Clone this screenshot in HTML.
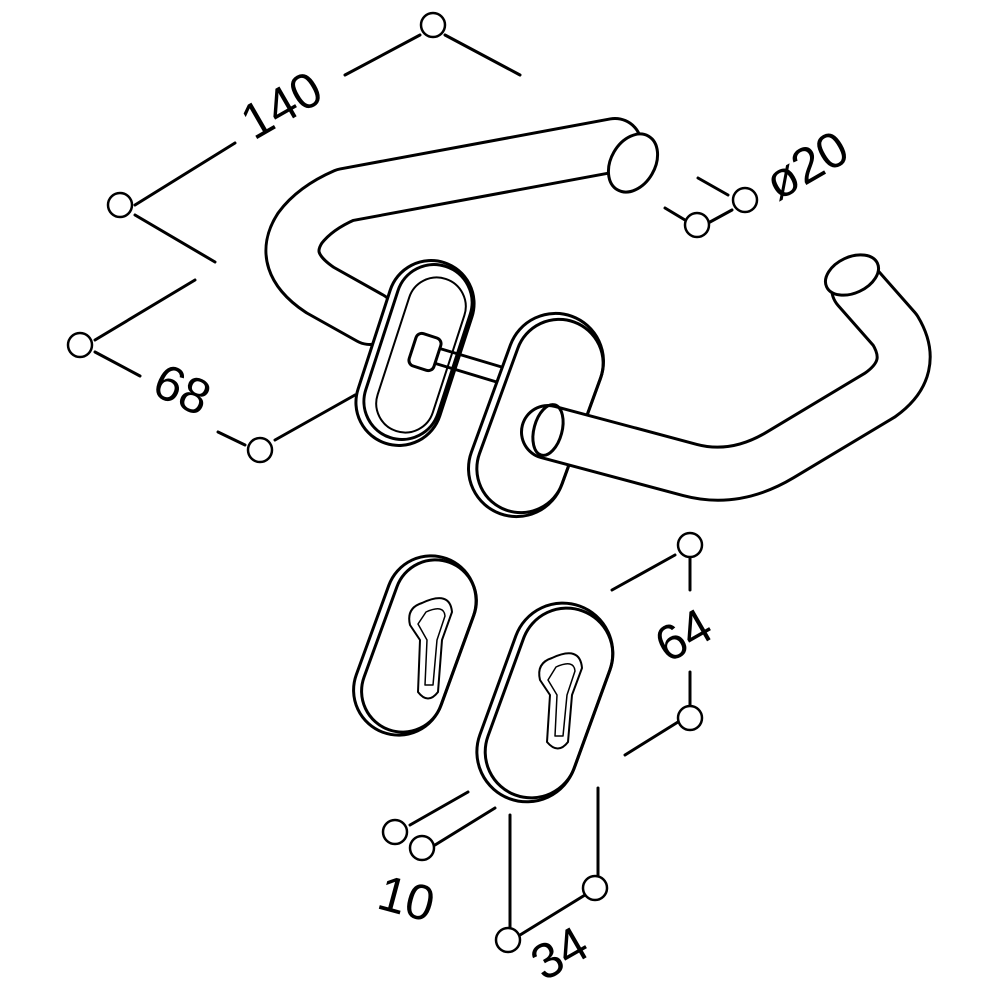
<!DOCTYPE html>
<html><head><style>html,body{margin:0;padding:0;background:#fff}svg{display:block}</style></head><body>
<svg width="1000" height="1000" viewBox="0 0 1000 1000" xmlns="http://www.w3.org/2000/svg">
<g fill="none" stroke="#000" stroke-width="3" stroke-linecap="round" stroke-linejoin="round">
<path d="M 370 318 L 320 290 Q 278 262 300 228 Q 315 208 345 195 L 615 145" stroke-width="56"/>
<path d="M 370 318 L 320 290 Q 278 262 300 228 Q 315 208 345 195 L 615 145" stroke="#fff" stroke-width="50"/>
<ellipse cx="633" cy="163" rx="22" ry="31" transform="rotate(30 633 163)" fill="#fff"/>
<rect x="372" y="258" width="86" height="190" rx="43" transform="rotate(18 415 353)" fill="#fff"/>
<rect x="380" y="262" width="76" height="180" rx="38" transform="rotate(18 418 352)"/>
<rect x="392" y="275" width="58" height="160" rx="29" transform="rotate(18 421 355)" stroke-width="2"/>
<path d="M 428 345 L 505 368 M 424 360 L 500 383"/>
<rect x="412" y="335" width="26" height="34" rx="6" transform="rotate(18 425 352)" fill="#fff"/>
<rect x="488" y="310" width="96" height="210" rx="48" transform="rotate(20 536 415)" fill="#fff"/>
<rect x="496" y="316" width="88" height="200" rx="44" transform="rotate(20 540 416)"/>
<path d="M 548 432 L 690 470 Q 735 482 780 455 L 880 395 Q 918 368 895 330 L 858 288" stroke-width="56"/>
<path d="M 548 432 L 690 470 Q 735 482 780 455 L 880 395 Q 918 368 895 330 L 858 288" stroke="#fff" stroke-width="50"/>
<ellipse cx="852" cy="275" rx="28" ry="18" transform="rotate(-25 852 275)" fill="#fff"/>
<ellipse cx="548" cy="430" rx="14" ry="26" transform="rotate(15 548 430)"/>
<rect x="370" y="553" width="90" height="185" rx="45" transform="rotate(20 415 645)" fill="#fff"/>
<rect x="378" y="557" width="82" height="178" rx="41" transform="rotate(20 419 646)"/>
<path d="M 422 603 Q 450 590 452 612 L 442 640 L 438 692 Q 428 705 418 692 L 420 640 L 410 625 Q 406 608 422 603 Z" stroke-width="2"/>
<path d="M 426 612 Q 444 604 445 616 L 437 640 L 433 685 L 425 685 L 427 640 L 418 624 Z" stroke-width="1.5"/>
<rect x="495" y="600" width="100" height="205" rx="50" transform="rotate(20 545 702)" fill="#fff"/>
<rect x="503" y="605" width="92" height="196" rx="46" transform="rotate(20 549 703)"/>
<path d="M 552 658 Q 580 645 582 668 L 572 695 L 568 742 Q 558 755 547 742 L 550 695 L 540 680 Q 536 663 552 658 Z" stroke-width="2"/>
<path d="M 556 667 Q 574 659 575 671 L 567 695 L 563 736 L 555 736 L 557 695 L 548 680 Z" stroke-width="1.5"/>
<path d="M 135 205 L 235 143 M 345 75 L 420 35 M 445 35 L 520 75 M 135 215 L 215 262"/>
<path d="M 95 340 L 195 280 M 95 352 L 140 376 M 218 432 L 245 445 M 275 440 L 355 395"/>
<path d="M 698 178 L 728 195 M 665 208 L 685 220 M 710 222 L 732 210"/>
<path d="M 612 590 L 675 555 M 690 558 L 690 590 M 690 672 L 690 705 M 625 755 L 678 722"/>
<path d="M 410 825 L 468 792 M 435 845 L 495 808"/>
<path d="M 510 815 L 510 928 M 598 788 L 598 875 M 520 935 L 585 895"/>
</g>
<g fill="#fff" stroke="#000" stroke-width="2.5">
<circle cx="433" cy="25" r="12"/><circle cx="120" cy="205" r="12"/><circle cx="80" cy="345" r="12"/>
<circle cx="260" cy="450" r="12"/><circle cx="745" cy="200" r="12"/><circle cx="697" cy="225" r="12"/>
<circle cx="690" cy="545" r="12"/><circle cx="690" cy="718" r="12"/><circle cx="395" cy="832" r="12"/>
<circle cx="422" cy="848" r="12"/><circle cx="595" cy="888" r="12"/><circle cx="508" cy="940" r="12"/>
</g>
<g font-family="Liberation Sans, sans-serif" font-size="50" fill="#000" text-anchor="middle">
<text transform="translate(290 120) rotate(-30)">140</text>
<text transform="translate(175 405) rotate(25)">68</text>
<text transform="translate(815 180) rotate(-30)">ø20</text>
<text transform="translate(692 650) rotate(-30)">64</text>
<text transform="translate(402 915) rotate(15)">10</text>
<text transform="translate(568 968) rotate(-30)">34</text>
</g>
</svg>
</body></html>
